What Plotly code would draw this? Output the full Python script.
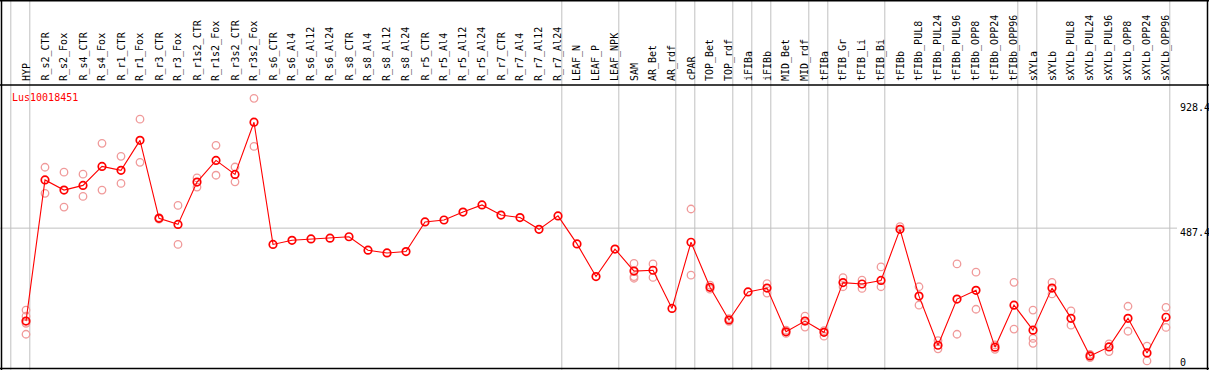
import plotly.graph_objects as go

W, H = 1209, 370

labels = ["HYP", "R_s2_CTR", "R_s2_Fox", "R_s4_CTR", "R_s4_Fox", "R_r1_CTR", "R_r1_Fox",
          "R_r3_CTR", "R_r3_Fox", "R_r1s2_CTR", "R_r1s2_Fox", "R_r3s2_CTR", "R_r3s2_Fox",
          "R_s6_CTR", "R_s6_Al4", "R_s6_Al12", "R_s6_Al24", "R_s8_CTR", "R_s8_Al4", "R_s8_Al12",
          "R_s8_Al24", "R_r5_CTR", "R_r5_Al4", "R_r5_Al12", "R_r5_Al24", "R_r7_CTR", "R_r7_Al4",
          "R_r7_Al12", "R_r7_Al24", "LEAF_N", "LEAF_P", "LEAF_NPK", "SAM", "AR_Bet", "AR_rdf",
          "cPAR", "TOP_Bet", "TOP_rdf", "iFIBa", "iFIBb", "MID_Bet", "MID_rdf", "tFIBa",
          "tFIB_Gr", "tFIB_Li", "tFIB_Bi", "tFIBb", "tFIBb_PUL8", "tFIBb_PUL24", "tFIBb_PUL96",
          "tFIBb_OPP8", "tFIBb_OPP24", "tFIBb_OPP96", "sXYLa", "sXYLb", "sXYLb_PUL8",
          "sXYLb_PUL24", "sXYLb_PUL96", "sXYLb_OPP8", "sXYLb_OPP24", "sXYLb_OPP96"]

means = [149, 663, 626, 643, 712, 698, 807, 523, 501, 655, 734, 683, 873,
         428, 443, 448, 451, 456, 407, 397, 402, 510, 517, 546, 572, 535, 526, 483, 532,
         430, 311, 411, 331, 334, 195, 436, 272, 153, 255, 269, 110, 149, 108,
         289, 284, 297, 483, 240, 61, 229, 261, 54, 207, 116, 269, 159, 22, 55, 159, 33, 163]

replicates = [[189, 167, 141, 101], [709, 614], [691, 564], [684, 603], [796, 626],
              [749, 650], [884, 727], [526, 520], [570, 428], [670, 637], [789, 680],
              [710, 656], [960, 785],
              [], [], [], [], [], [], [], [], [], [], [], [], [], [], [], [],
              [], [], [],
              [359, 311, 305], [357, 308], [], [557, 316], [280, 265], [158, 148], [],
              [285, 251], [116, 104], [167, 127], [114, 94], [307, 274], [298, 268],
              [346, 274], [493], [274, 207], [78, 48], [357, 101], [327, 192], [46, 62],
              [290, 120], [189, 86, 68], [290, 248], [186, 134], [28, 16], [66, 38],
              [203, 112], [58, 4], [199, 126]]

group_starts = [0, 1, 29, 32, 35, 36, 38, 39, 40, 42, 43, 46, 53, 54, 61]

y_ticks = [928.4, 487.4, 0]
y_tick_text = ["928.4", "487.4", "0"]
gene = "Lus10018451"

# pixel geometry helpers
X0, DX = 26, 19
def px_to_i(px):
    return (px - X0) / DX
def py_to_paper(py):
    return (H - py) / H

V0PX, SCALE = 362.0, 255.0 / 928.4
top_px, bot_px = 85, 369
y_lo = (V0PX - bot_px) / SCALE
y_hi = (V0PX - top_px) / SCALE

xs = list(range(len(labels)))
rep_x, rep_y = [], []
for i, r in enumerate(replicates):
    for v in r:
        rep_x.append(i)
        rep_y.append(v)

fig = go.Figure()
fig.add_trace(go.Scatter(x=rep_x, y=rep_y, mode="markers",
                         marker=dict(symbol="circle-open", size=7.5,
                                     line=dict(color="#f09a9a", width=1.3), color="#f09a9a"),
                         hoverinfo="skip", showlegend=False, cliponaxis=False))
fig.add_trace(go.Scatter(x=xs, y=means, mode="lines+markers",
                         line=dict(color="#ff0000", width=1.1),
                         marker=dict(symbol="circle-open", size=7.5,
                                     line=dict(color="#ff0000", width=1.7), color="#ff0000"),
                         showlegend=False, cliponaxis=False))

shapes = []
for k in group_starts:
    xi = k - 0.8
    shapes.append(dict(type="line", xref="x", yref="paper", x0=xi, x1=xi, y0=0, y1=1,
                       line=dict(color="#c0c0c0", width=1), layer="below"))
shapes.append(dict(type="line", xref="paper", yref="y", x0=0, x1=1177 / W,
                   y0=y_ticks[1], y1=y_ticks[1], line=dict(color="#c0c0c0", width=1), layer="below"))
blk = dict(color="#000000", width=1.5)
shapes.append(dict(type="line", xref="paper", yref="paper", x0=0, x1=1, y0=py_to_paper(0.75), y1=py_to_paper(0.75), line=blk))
shapes.append(dict(type="line", xref="paper", yref="paper", x0=0, x1=1, y0=py_to_paper(85), y1=py_to_paper(85), line=blk))
shapes.append(dict(type="line", xref="paper", yref="paper", x0=0, x1=1, y0=py_to_paper(368.5), y1=py_to_paper(368.5), line=blk))
shapes.append(dict(type="line", xref="paper", yref="paper", x0=1.5 / W, x1=1.5 / W, y0=0, y1=1, line=blk))
shapes.append(dict(type="line", xref="paper", yref="paper", x0=1207.5 / W, x1=1207.5 / W, y0=0, y1=1, line=blk))

annotations = []
mono = "DejaVu Sans Mono, Liberation Mono, monospace"
for i, lab in enumerate(labels):
    annotations.append(dict(x=i, xref="x", y=py_to_paper(83), yref="paper", text=lab,
                            textangle=-90, showarrow=False, xanchor="center", yanchor="bottom",
                            font=dict(family=mono, size=10, color="#000000")))
annotations.append(dict(x=10 / W, xref="paper", y=py_to_paper(97), yref="paper", text=gene,
                        showarrow=False, xanchor="left", yanchor="middle",
                        font=dict(family=mono, size=10, color="#ff0000")))
for py, t in zip([107, 232, 362], y_tick_text):
    annotations.append(dict(x=1178 / W, xref="paper", y=py_to_paper(py), yref="paper", text=t,
                            showarrow=False, xanchor="left", yanchor="middle",
                            font=dict(family=mono, size=10, color="#000000")))

fig.update_layout(
    width=W, height=H, margin=dict(l=0, r=0, t=0, b=0),
    paper_bgcolor="#ffffff", plot_bgcolor="rgba(0,0,0,0)",
    xaxis=dict(range=[px_to_i(0), px_to_i(W)], domain=[0, 1], visible=False, fixedrange=True),
    yaxis=dict(range=[y_lo, y_hi], domain=[py_to_paper(bot_px), py_to_paper(top_px)],
               visible=False, fixedrange=True),
    shapes=shapes, annotations=annotations, showlegend=False, hovermode=False,
)

fig.write_html("out.html", config={"displayModeBar": False},
               post_script="document.body.style.margin='0';document.body.style.overflow='hidden';")
